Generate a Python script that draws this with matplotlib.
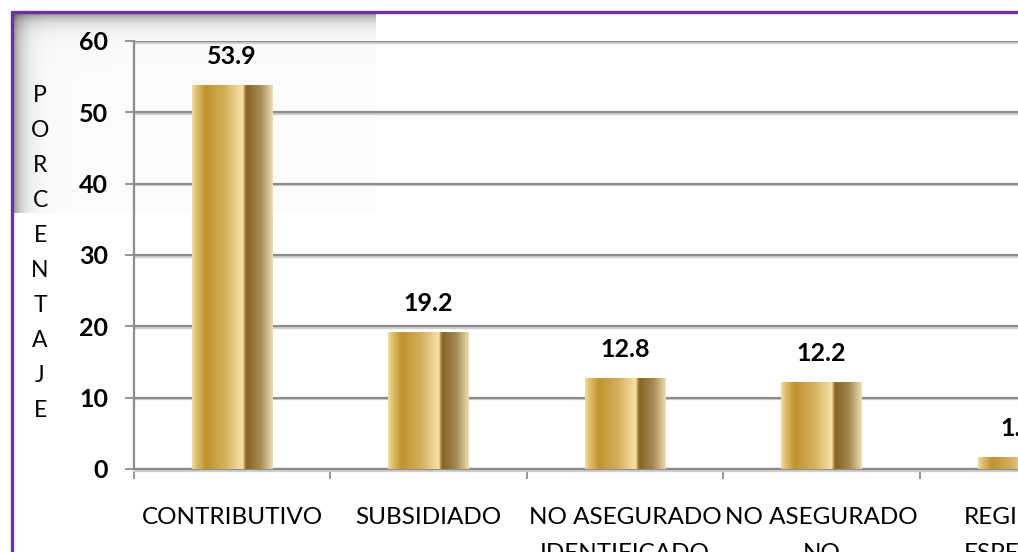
import numpy as np
import matplotlib
matplotlib.use("Agg")
import matplotlib.pyplot as plt
from matplotlib.colors import LinearSegmentedColormap
from matplotlib import patheffects as pe

plt.rcParams['font.family'] = ['Lato', 'DejaVu Sans']

categories = ["CONTRIBUTIVO", "SUBSIDIADO", "NO ASEGURADO\nIDENTIFICADO",
              "NO ASEGURADO\nNO\nIDENTIFICADO", "REGIMEN\nESPECIAL"]
values = [53.9, 19.2, 12.8, 12.2, 1.7]
y_ticks = [0, 10, 20, 30, 40, 50, 60]
y_title = "PORCENTAJE"

W, H = 1018, 552
fig = plt.figure(figsize=(W / 100, H / 100), dpi=100)
fig.patch.set_facecolor("white")

# background layer in pixel units: shaded panel and purple frame
bg = fig.add_axes([0, 0, 1, 1], zorder=0)
bg.set_xlim(0, W)
bg.set_ylim(H, 0)
bg.axis("off")
px0, px1, py0, py1 = 13, 376, 13, 213
xx, yy = np.meshgrid(np.arange(px1 - px0), np.arange(py1 - py0))
shade = (1 - 0.40 * np.exp(-yy / 8.0)) * (1 - 0.40 * np.exp(-xx / 9.0)) * 0.985
panel = np.dstack([shade, shade, shade])
bg.imshow(panel, extent=[px0, px1, py1, py0], aspect="auto", interpolation="bilinear")
bg.plot([12, 12], [11, H], color="#7030a0", lw=2.4, solid_capstyle="butt")
bg.plot([11, W], [12, 12], color="#7030a0", lw=2.4, solid_capstyle="butt")

ax = fig.add_axes([134 / W, 1 - 469 / H, 1 - 134 / W, (469 - 41) / H], zorder=1)
ax.patch.set_alpha(0)

x = np.arange(len(categories))
bars = ax.bar(x, values, width=0.41, color="none", edgecolor="none", zorder=3)

gold = LinearSegmentedColormap.from_list("gold", [
    (0.00, "#f2dc9e"), (0.05, "#e2c271"), (0.17, "#c0922e"), (0.40, "#d4ae5c"),
    (0.63, "#f7e3a8"), (0.655, "#a98236"), (0.68, "#876526"), (0.85, "#a68b55"),
    (1.00, "#efdeb0")])
grad = np.linspace(0, 1, 256).reshape(1, -1)
for b in bars:
    x0, w, h = b.get_x(), b.get_width(), b.get_height()
    im = ax.imshow(grad, cmap=gold, extent=[x0, x0 + w, 0, h], aspect="auto",
                   interpolation="bilinear", zorder=3)
    im.set_clip_path(b)
    ax.annotate(f"{h:.1f}", (x0 + w / 2, h), xytext=(0, 20.5), textcoords="offset points",
                ha="center", va="center", fontsize=18, fontweight="bold", color="black",
                annotation_clip=False)

ax.set_xlim(-0.5, len(categories) - 1)
ax.set_ylim(0, 60)
ax.set_yticks(y_ticks)
ax.set_yticklabels([str(t) for t in y_ticks], fontsize=18, fontweight="bold")
ax.set_xticks(x)
ax.set_xticklabels(categories, fontsize=17.5, linespacing=1.85, va="top")
ax.set_xticks(np.arange(-0.5, len(categories) - 1, 1), minor=True)
ax.tick_params(axis="x", which="major", length=0, pad=27.5)
ax.tick_params(axis="x", which="minor", length=7, width=1.3, color="#8c8c8c")
ax.tick_params(axis="y", length=6.5, width=1.3, color="#8c8c8c", pad=12)

shadow = [pe.SimpleLineShadow(offset=(0, -1.2), shadow_color="#cfcfcf", alpha=1), pe.Normal()]
ax.grid(axis="y", color="#8c8c8c", lw=1.6, zorder=1, path_effects=shadow)
ax.set_axisbelow(True)
for s in ["top", "right"]:
    ax.spines[s].set_visible(False)
ax.spines["left"].set_color("#8c8c8c")
ax.spines["left"].set_linewidth(1.6)
ax.spines["bottom"].set_color("#8c8c8c")
ax.spines["bottom"].set_linewidth(1.6)
ax.spines["bottom"].set_path_effects(shadow)

# stacked vertical title, one letter per row
letter_top, letter_step = 96, 34.9
for i, ch in enumerate(y_title):
    fig.text(40 / W, 1 - (letter_top + i * letter_step) / H, ch, ha="center", va="center",
             fontsize=16.5, color="black")

fig.savefig("out.png", dpi=100, facecolor="white")
